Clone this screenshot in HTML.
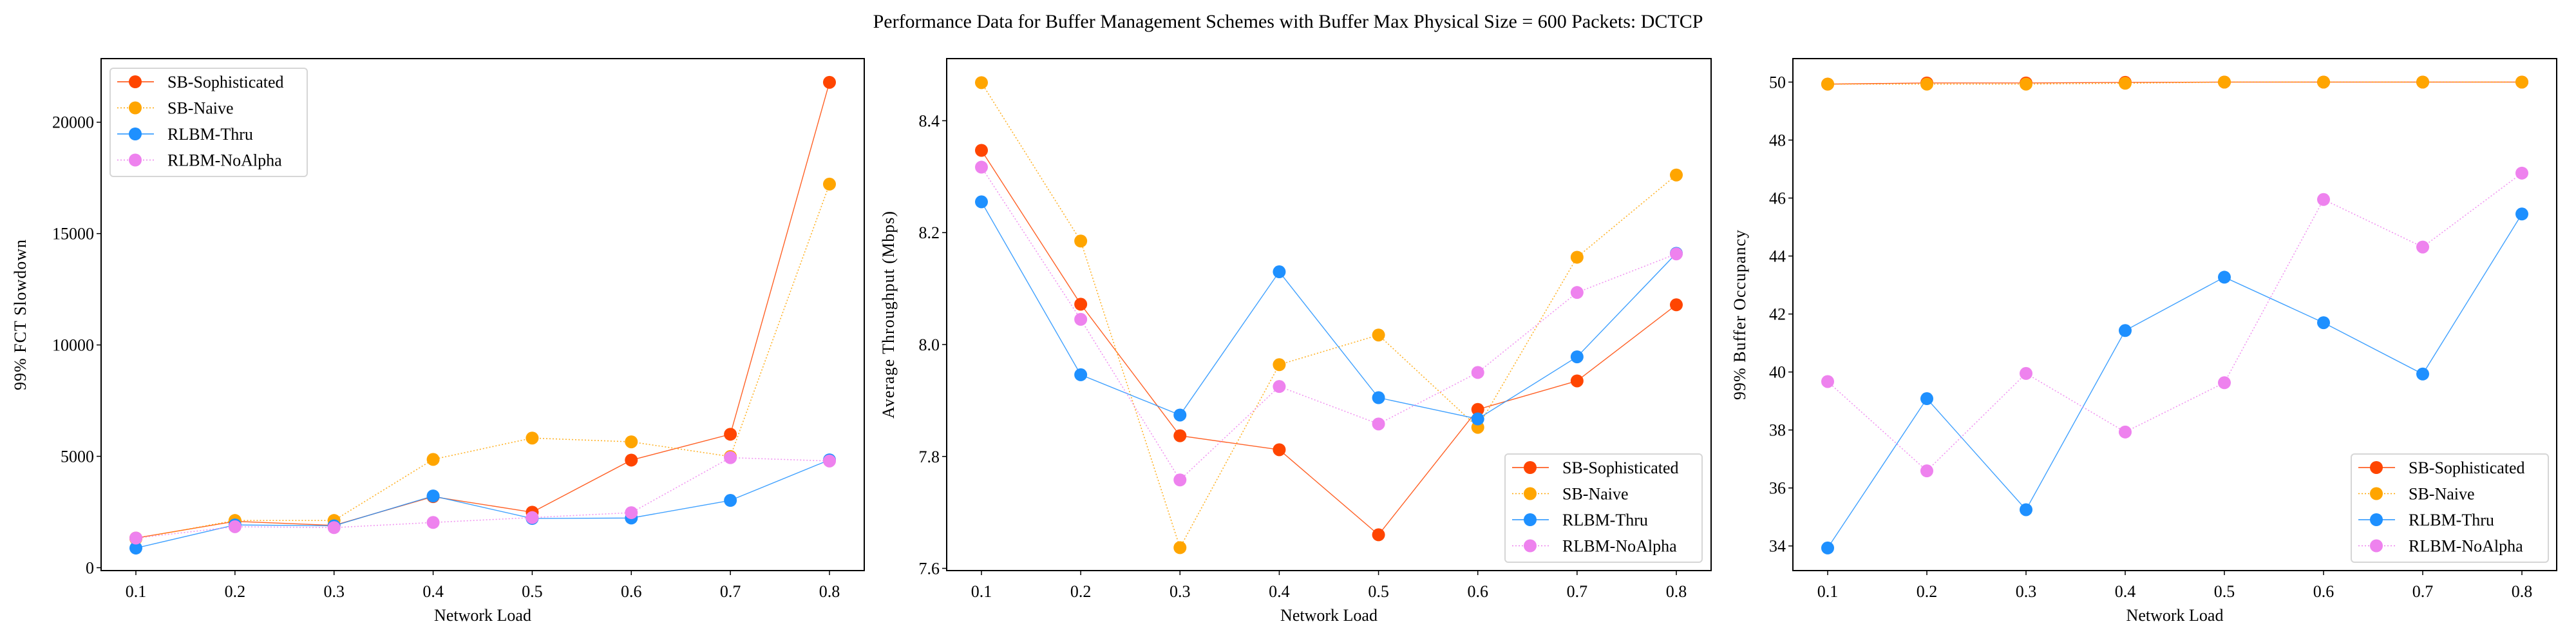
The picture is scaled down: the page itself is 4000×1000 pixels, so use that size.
<!DOCTYPE html>
<html><head><meta charset="utf-8"><style>
html,body{margin:0;padding:0;background:#fff;}
svg{display:block;font-family:"Liberation Serif",serif;}
</style></head><body>
<svg id="fig" width="4000" height="1000" viewBox="0 0 4000 1000">
<rect width="4000" height="1000" fill="#fff"/>
<text x="2000" y="43" text-anchor="middle" font-size="30">Performance Data for Buffer Management Schemes with Buffer Max Physical Size = 600 Packets: DCTCP</text>
</svg>
<script>
const loads = [0.1,0.2,0.3,0.4,0.5,0.6,0.7,0.8];
const seriesNames = ["SB-Sophisticated","SB-Naive","RLBM-Thru","RLBM-NoAlpha"];
const fctSoph = [1330,2080,1900,3190,2490,4830,5990,21790];
const fctNaive = [1300,2120,2120,4860,5820,5650,4990,17220];
const fctThru = [880,1920,1880,3220,2210,2230,3020,4840];
const fctNoAlpha = [1330,1840,1800,2030,2250,2470,4940,4790];
const thrSoph = [8.347,8.072,7.837,7.812,7.660,7.884,7.935,8.071];
const thrNaive = [8.468,8.185,7.637,7.964,8.017,7.852,8.156,8.303];
const thrThru = [8.255,7.946,7.874,8.130,7.905,7.867,7.978,8.163];
const thrNoAlpha = [8.317,8.045,7.758,7.925,7.858,7.950,8.093,8.162];
const occSoph = [49.93,49.97,49.97,49.99,50.0,50.0,50.0,50.0];
const occNaive = [49.93,49.93,49.93,49.96,50.0,50.0,50.0,50.0];
const occThru = [33.93,39.08,35.25,41.43,43.27,41.70,39.93,45.45];
const occNoAlpha = [39.67,36.59,39.95,37.93,39.63,45.95,44.31,46.86];
const fctTicks = [0,5000,10000,15000,20000];
const thrTicks = [7.6,7.8,8.0,8.2,8.4];
const occTicks = [34,36,38,40,42,44,46,48,50];
const xTicks = [0.1,0.2,0.3,0.4,0.5,0.6,0.7,0.8];

const NS="http://www.w3.org/2000/svg";
const svg=document.getElementById('fig');
const colors=["#ff4500","#ffa500","#1e90ff","#ee82ee"];
const dashes=[null,"2,3",null,"2,3"];
function mk(tag,attrs,parent){const e=document.createElementNS(NS,tag);for(const k in attrs)e.setAttribute(k,attrs[k]);(parent||svg).appendChild(e);return e;}

function panel(cfg){
  const g=mk('g',{});
  
  
  const L=cfg.left,R=cfg.right,T=91,B=886;
  const xs=v=>cfg.x1+(v-0.1)/(0.7)*(cfg.x8-cfg.x1);
  const ys=v=>B-(v-cfg.ymin)/(cfg.ymax-cfg.ymin)*(B-T);
  cfg.series.forEach((vals,si)=>{
    const pts=vals.map((v,i)=>xs(loads[i])+','+ys(v)).join(' ');
    const pl=mk('polyline',{points:pts,fill:'none',stroke:colors[si],'stroke-width':dashes[si]?1.6:1.4,'stroke-opacity':0.85},g);
    if(dashes[si])pl.setAttribute('stroke-dasharray',dashes[si]);
    
    
    vals.forEach((v,i)=>{
      const c=mk('circle',{cx:xs(loads[i]),cy:ys(v),r:10,fill:colors[si]},g);
      
      
    });
  });
  const fr=mk('rect',{x:L,y:T,width:R-L,height:B-T,fill:'none',stroke:'#000','stroke-width':2},g);
  
  
  xTicks.forEach(t=>{
    const x=xs(t);
    mk('line',{x1:x,x2:x,y1:B,y2:B+7,stroke:'#000','stroke-width':1.5},g);
    const tx=mk('text',{x:x,y:927,'text-anchor':'middle','font-size':26},g);
    tx.textContent=t.toFixed(1);
    
    
  });
  cfg.ticks.forEach(t=>{
    const y=ys(t);
    mk('line',{x1:L-7,x2:L,y1:y,y2:y,stroke:'#000','stroke-width':1.5},g);
    const tx=mk('text',{x:L-11,y:y+9,'text-anchor':'end','font-size':26},g);
    tx.textContent=cfg.fmt(t);
    
    
  });
  const xl=mk('text',{x:(L+R)/2,y:964,'text-anchor':'middle','font-size':26},g);
  xl.textContent='Network Load';
  
  
  const yl=mk('text',{x:0,y:0,'text-anchor':'middle','font-size':26,'letter-spacing':1,transform:`translate(${cfg.ylx},${(T+B)/2}) rotate(-90)`},g);
  yl.textContent=cfg.ylabel;
  
  
  const lg=mk('g',{},g);
  
  
  const lx=cfg.legX,ly=cfg.legY;
  mk('rect',{x:lx,y:ly,width:306,height:168,rx:5,fill:'#fff','fill-opacity':0.85,stroke:'#d6d6d6','stroke-width':2},lg);
  seriesNames.forEach((n,si)=>{
    const ry=ly+21+si*40.5;
    const ent=mk('g',{},lg);
    
    
    const ln=mk('line',{x1:lx+11,x2:lx+68,y1:ry,y2:ry,stroke:colors[si],'stroke-width':1.6},ent);
    if(dashes[si])ln.setAttribute('stroke-dasharray',dashes[si]);
    mk('circle',{cx:lx+39,cy:ry,r:10,fill:colors[si]},ent);
    const t=mk('text',{x:lx+89,y:ry+9,'font-size':26},ent);
    t.textContent=n;
  });
}
panel({name:'fct-panel',left:157,right:1342,x1:211,x8:1288,ymin:-130,ymax:22855,ticks:fctTicks,fmt:t=>String(t),ylabel:'99% FCT Slowdown',ylx:40,series:[fctSoph,fctNaive,fctThru,fctNoAlpha],legX:171,legY:106});
panel({name:'throughput-panel',left:1470,right:2657,x1:1524,x8:2603,ymin:7.596,ymax:8.511,ticks:thrTicks,fmt:t=>t.toFixed(1),ylabel:'Average Throughput (Mbps)',ylx:1388,series:[thrSoph,thrNaive,thrThru,thrNoAlpha],legX:2337,legY:705});
panel({name:'buffer-occupancy-panel',left:2784,right:3970,x1:2838,x8:3916,ymin:33.15,ymax:50.81,ticks:occTicks,fmt:t=>String(t),ylabel:'99% Buffer Occupancy',ylx:2710,series:[occSoph,occNaive,occThru,occNoAlpha],legX:3651,legY:705});
</script>
</body></html>
